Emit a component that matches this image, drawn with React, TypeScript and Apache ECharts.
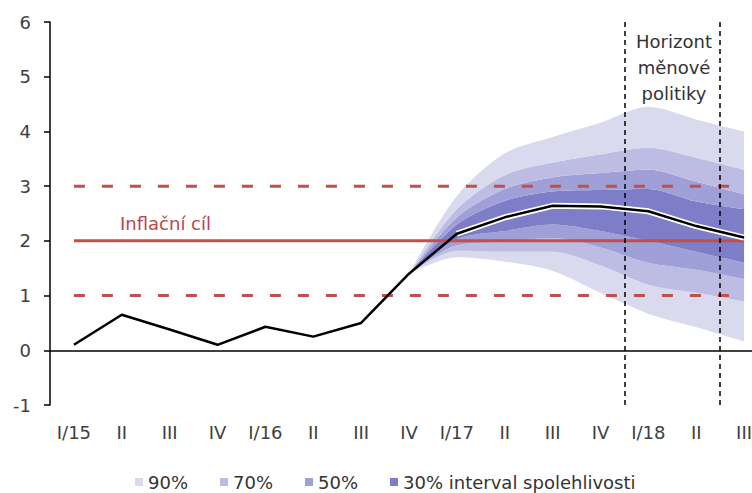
import React, { useEffect, useRef } from "react";
import * as echarts from "echarts";

const categories = ["I/15", "II", "III", "IV", "I/16", "II", "III", "IV", "I/17", "II", "III", "IV", "I/18", "II", "III"];
const inflation = [0.1, 0.65, 0.38, 0.1, 0.43, 0.25, 0.5, 1.4, 2.13, 2.43, 2.64, 2.63, 2.54, 2.27, 2.06];
const targetValue = 2;
const toleranceLow = 1;
const toleranceHigh = 3;
const yTicks = [-1, 0, 1, 2, 3, 4, 5, 6];

// fan chart bounds, starting at IV/16
const fanStart = 7;
const lower90 = [1.4, 1.7, 1.62, 1.45, 1.05, 0.67, 0.42, 0.16];
const lower70 = [1.4, 1.82, 1.8, 1.8, 1.55, 1.2, 1.05, 0.89];
const lower50 = [1.4, 1.92, 1.98, 2.05, 1.88, 1.6, 1.47, 1.3];
const lower30 = [1.4, 2.03, 2.18, 2.3, 2.18, 2.0, 1.8, 1.6];
const upper30 = [1.4, 2.3, 2.73, 2.9, 2.93, 2.95, 2.72, 2.58];
const upper50 = [1.4, 2.43, 2.95, 3.16, 3.24, 3.3, 3.08, 2.85];
const upper70 = [1.4, 2.58, 3.2, 3.43, 3.58, 3.7, 3.52, 3.3];
const upper90 = [1.4, 2.82, 3.6, 3.9, 4.16, 4.45, 4.22, 4.0];

const horizonBoundaries = [11.5, 13.5];
const legendNames = ["90%", "70%", "50%", "30% interval spolehlivosti"];

const C90 = "#dadaee";
const C70 = "#bdbde3";
const C50 = "#a0a0d8";
const C30 = "#7e7dc7";
const RED = "#c0504d";
const FONT = "DejaVu Sans";

function pad(arr: number[]): (number | string)[] {
  const out: (number | string)[] = [];
  for (let i = 0; i < fanStart; i++) out.push("-");
  return out.concat(arr);
}
function diff(a: number[], b: number[]): number[] {
  return b.map((v, i) => +(v - a[i]).toFixed(4));
}

export default function App() {
  const ref = useRef<HTMLDivElement>(null);
  useEffect(() => {
    if (!ref.current) return;
    const chart = echarts.init(ref.current, null, { renderer: "svg" });
    const bands: [number[], number[], string, string][] = [
      [lower90, lower70, legendNames[0], C90],
      [lower70, lower50, legendNames[1], C70],
      [lower50, lower30, legendNames[2], C50],
      [lower30, upper30, legendNames[3], C30],
      [upper30, upper50, legendNames[2], C50],
      [upper50, upper70, legendNames[1], C70],
      [upper70, upper90, legendNames[0], C90],
    ];
    const bandSeries = bands.map(([a, b, name, color]) => ({
      type: "line",
      name,
      stack: "fan",
      smooth: 0.3,
      symbol: "none",
      silent: true,
      color,
      lineStyle: { width: 0, color },
      areaStyle: { color, opacity: 1 },
      data: pad(diff(a, b)),
      z: 1,
    }));
    const halo = inflation.map((v, i) => (i >= 8 ? v : "-"));
    chart.setOption({
      animation: false,
      textStyle: { fontFamily: FONT },
      grid: { left: 50, top: 22, width: 718, height: 383 },
      legend: {
        data: legendNames,
        left: 130,
        top: 468,
        itemGap: 32,
        itemWidth: 8,
        itemHeight: 8,
        icon: "rect",
        selectedMode: false,
        textStyle: { fontSize: 18, color: "#333", fontFamily: FONT },
      },
      xAxis: [
        {
          type: "category",
          data: categories,
          boundaryGap: true,
          position: "bottom",
          axisLine: { show: false, onZero: false },
          axisTick: { show: false },
          axisLabel: { interval: 0, fontSize: 18, color: "#404040", margin: 18, fontFamily: FONT },
        },
        { type: "value", min: -0.5, max: 14.5, show: false },
      ],
      yAxis: {
        type: "value",
        min: yTicks[0],
        max: yTicks[yTicks.length - 1],
        interval: 1,
        axisLine: { show: true, onZero: false, lineStyle: { color: "#000", width: 1.5 } },
        axisTick: { show: true, length: 6, lineStyle: { color: "#000", width: 1.5 } },
        axisLabel: { fontSize: 18, color: "#404040", margin: 19, fontFamily: FONT },
        splitLine: { show: false },
      },
      series: [
        {
          type: "line",
          name: "base",
          stack: "fan",
          smooth: 0.3,
          symbol: "none",
          silent: true,
          lineStyle: { width: 0, opacity: 0 },
          data: pad(lower90),
          z: 1,
        },
        ...bandSeries,
        {
          type: "line",
          name: "zero",
          data: [],
          silent: true,
          markLine: {
            symbol: "none",
            silent: true,
            label: { show: false },
            lineStyle: { color: "#000", width: 1.5, type: "solid" },
            data: [{ yAxis: 0 }],
          },
          z: 3,
        },
        {
          type: "line",
          name: "tol-low",
          data: categories.map(() => toleranceLow),
          symbol: "none",
          silent: true,
          lineStyle: { color: RED, width: 3, type: [11, 17] },
          z: 4,
        },
        {
          type: "line",
          name: "tol-high",
          data: categories.map(() => toleranceHigh),
          symbol: "none",
          silent: true,
          lineStyle: { color: RED, width: 3, type: [11, 17] },
          z: 4,
        },
        {
          type: "line",
          name: "target",
          data: categories.map(() => targetValue),
          symbol: "none",
          silent: true,
          lineStyle: { color: RED, width: 3 },
          z: 4,
        },
        {
          type: "line",
          name: "halo",
          data: halo,
          symbol: "none",
          silent: true,
          lineStyle: { color: "#fff", width: 6 },
          z: 5,
        },
        {
          type: "line",
          name: "inflation",
          data: inflation,
          symbol: "none",
          silent: true,
          lineStyle: { color: "#000", width: 2.5 },
          z: 6,
        },
        {
          type: "line",
          name: "horizon",
          xAxisIndex: 1,
          data: [],
          silent: true,
          markLine: {
            symbol: "none",
            silent: true,
            label: { show: false },
            lineStyle: { color: "#000", width: 1.5, type: [5, 4] },
            data: horizonBoundaries.map((x) => ({ xAxis: x })),
          },
          z: 7,
        },
      ],
      graphic: [
        {
          type: "text",
          left: 120,
          top: 214,
          style: { text: "Inflační cíl", fill: "#b5474f", fontSize: 18, fontFamily: FONT },
          z: 10,
        },
        {
          type: "text",
          x: 674,
          y: 28,
          style: {
            text: "Horizont\nměnové\npolitiky",
            fill: "#333",
            fontSize: 18,
            lineHeight: 26,
            align: "center",
            fontFamily: FONT,
          },
          z: 10,
        },
      ],
    });
    return () => chart.dispose();
  }, []);
  return (
    <div
      style={{ position: "absolute", left: 0, top: 0, width: 752, height: 493, overflow: "hidden", background: "#fff" }}
    >
      <div ref={ref} style={{ width: 790, height: 493 }} />
    </div>
  );
}
